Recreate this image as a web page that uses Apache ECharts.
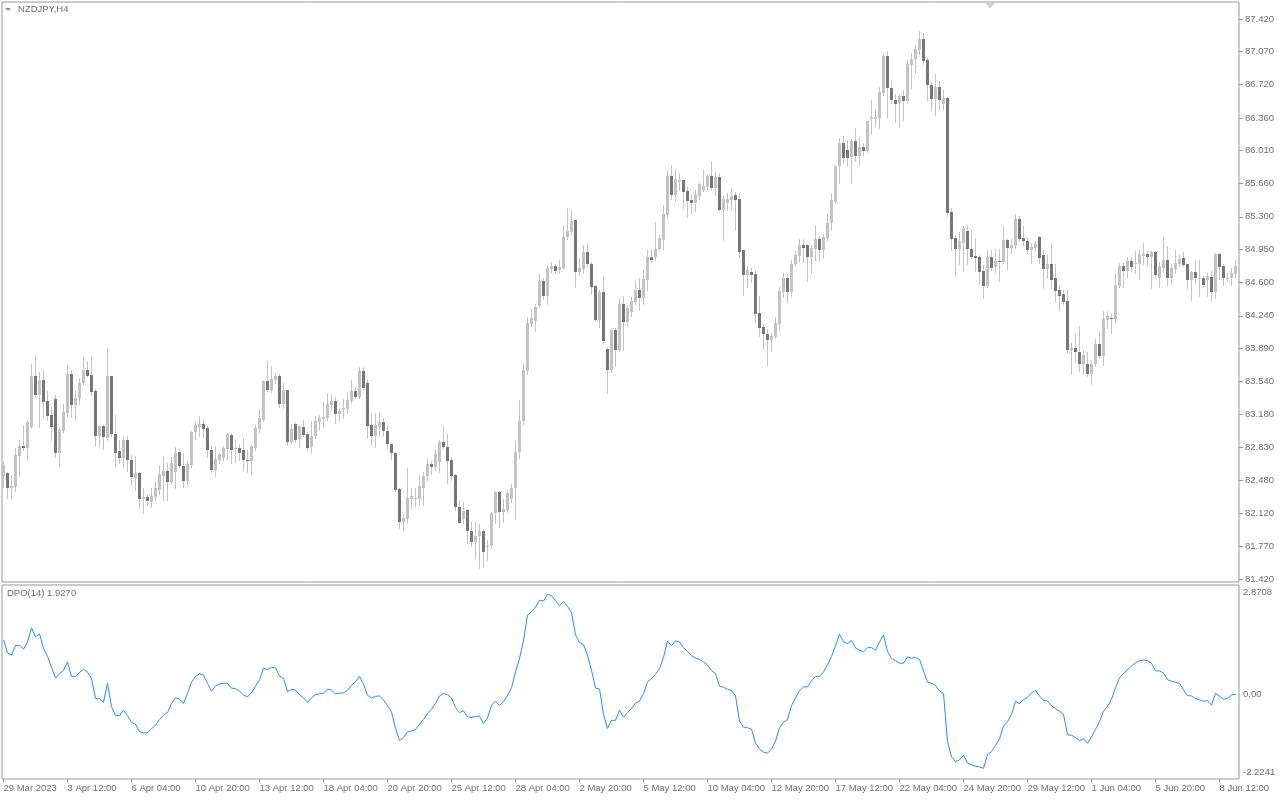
<!DOCTYPE html>
<html>
<head>
<meta charset="utf-8">
<script src="https://cdn.jsdelivr.net/npm/echarts@6/dist/echarts.min.js"></script>
<style>
html,body{margin:0;padding:0;background:#ffffff;}
#chart{width:1280px;height:800px;}
</style>
</head>
<body>
<div id="chart"></div>
<script>
// ---- Data (NZDJPY H4) ----
const opens = [
82.52,82.56,82.40,82.41,82.74,82.85,82.82,83.05,83.60,83.39,
83.55,83.33,83.18,83.35,82.77,83.01,83.20,83.62,83.28,83.36,
83.52,83.66,83.61,83.43,82.95,83.06,82.93,83.59,82.97,82.79,
82.72,82.91,82.70,82.50,82.56,82.28,82.30,82.25,82.30,82.37,
82.52,82.58,82.46,82.57,82.78,82.63,82.47,82.64,82.99,83.05,
83.08,83.04,82.80,82.59,82.70,82.72,82.81,82.96,82.81,82.82,
82.80,82.69,82.68,82.82,83.03,83.12,83.54,83.44,83.55,83.59,
83.29,83.44,82.89,83.08,82.92,83.05,82.97,82.83,82.95,83.10,
83.13,83.15,83.28,83.33,83.19,83.24,83.24,83.33,83.43,83.37,
83.65,83.52,83.07,82.95,83.05,83.10,83.01,82.87,82.77,82.38,
82.03,82.06,82.28,82.28,82.28,82.40,82.52,82.65,82.62,82.67,
82.89,82.83,82.69,82.53,82.19,82.06,82.16,81.93,81.82,81.88,
81.93,81.76,81.77,82.13,82.35,82.14,82.16,82.28,82.40,82.78,
83.11,83.65,84.15,84.18,84.34,84.61,84.45,84.74,84.77,84.73,
84.75,85.08,85.14,85.27,84.71,84.74,84.92,84.80,84.56,84.20,
84.50,83.88,83.66,84.09,83.87,84.37,84.17,84.28,84.39,84.52,
84.43,84.62,84.87,84.87,84.96,85.05,85.32,85.74,85.53,85.67,
85.69,85.58,85.48,85.45,85.52,85.59,85.62,85.74,85.61,85.73,
85.37,85.45,85.48,85.53,85.49,84.94,84.68,84.71,84.69,84.27,
84.12,84.05,83.98,84.01,84.15,84.50,84.64,84.50,84.80,84.88,
85.00,85.00,84.87,84.96,85.06,84.95,85.07,85.23,85.46,85.84,
86.09,86.02,85.94,86.11,85.95,86.05,86.01,86.35,86.35,86.36,
86.63,87.02,86.68,86.55,86.52,86.59,86.54,86.93,86.99,87.09,
87.21,86.98,86.71,86.56,86.69,86.51,86.57,85.35,85.07,84.96,
85.02,85.15,84.96,84.88,84.87,84.72,84.56,84.87,84.76,84.83,
84.82,85.05,84.97,84.99,85.28,85.07,85.04,84.94,84.97,85.08,
84.89,84.74,84.80,84.64,84.52,84.47,84.40,83.87,83.90,83.85,
83.72,83.72,83.62,83.72,83.94,83.81,84.20,84.22,84.21,84.56,
84.77,84.72,84.83,84.79,84.80,84.88,84.90,84.87,84.92,84.65,
84.75,84.84,84.65,84.74,84.80,84.86,84.79,84.62,84.71,84.64,
84.65,84.62,84.66,84.49,84.90,84.77,84.64,84.64,84.69
];
const highs = [
82.67,82.57,82.52,82.82,82.91,83.07,83.12,83.72,83.82,83.64,
83.66,83.43,83.27,83.39,83.04,83.30,83.71,83.66,83.45,83.57,
83.80,83.76,83.81,83.46,83.07,83.07,83.89,83.60,83.18,82.91,
82.95,82.95,82.75,82.74,82.57,82.39,82.33,82.39,82.46,82.64,
82.74,82.66,82.73,82.83,82.81,82.77,82.70,83.01,83.11,83.17,
83.13,83.07,82.84,82.84,82.77,82.84,82.98,82.98,82.91,82.87,
82.93,82.80,82.86,83.07,83.23,83.55,83.76,83.70,83.63,83.62,
83.52,83.45,83.08,83.10,83.07,83.12,82.99,83.11,83.17,83.18,
83.32,83.41,83.40,83.37,83.25,83.35,83.41,83.55,83.48,83.69,
83.69,83.55,83.20,83.20,83.21,83.15,83.07,82.87,82.78,82.39,
82.12,82.61,82.39,82.39,82.53,82.57,82.72,82.68,82.81,82.91,
83.06,82.97,82.73,82.55,82.27,82.25,82.17,82.03,82.03,82.01,
81.96,81.84,82.14,82.36,82.36,82.28,82.37,82.44,82.90,83.34,
83.73,84.23,84.31,84.37,84.69,84.65,84.77,84.82,84.80,84.84,
85.21,85.40,85.37,85.27,84.86,85.00,85.02,84.82,84.57,84.52,
84.67,83.91,84.11,84.11,84.43,84.45,84.36,84.44,84.61,84.64,
84.73,84.95,84.96,85.24,85.11,85.43,85.80,85.86,85.81,85.77,
85.70,85.62,85.55,85.59,85.66,85.80,85.76,85.90,85.78,85.77,
85.52,85.56,85.61,85.57,85.56,84.95,84.77,84.75,84.73,84.45,
84.15,84.10,84.06,84.23,84.55,84.70,84.69,84.84,84.94,85.06,
85.06,85.01,85.00,85.21,85.10,85.12,85.33,85.56,85.86,86.14,
86.17,86.12,86.13,86.25,86.16,86.09,86.33,86.55,86.46,86.69,
87.05,87.08,86.77,86.62,86.62,86.66,86.98,87.06,87.14,87.29,
87.27,87.00,86.75,86.83,86.76,86.66,86.58,85.39,85.11,85.14,
85.20,85.21,85.16,85.07,84.89,84.78,84.95,84.94,84.96,84.96,
85.20,85.06,85.06,85.33,85.31,85.20,85.07,85.02,85.04,85.09,
84.94,84.89,85.02,84.79,84.56,84.52,84.52,83.95,84.06,84.13,
83.87,83.85,83.77,83.99,84.08,84.29,84.29,84.26,84.69,84.81,
84.82,84.87,84.87,84.93,84.95,85.02,84.93,84.93,84.93,84.82,
85.08,84.99,84.80,84.95,84.89,84.92,84.80,84.72,84.84,84.84,
84.67,84.70,84.72,84.91,84.91,84.80,84.70,84.75,84.84
];
const lows = [
82.41,82.29,82.29,82.36,82.52,82.80,82.69,83.04,83.37,83.05,
83.16,83.12,82.91,82.73,82.63,83.00,83.16,83.16,83.12,83.30,
83.50,83.59,83.39,82.84,82.85,82.81,82.91,82.95,82.63,82.66,
82.62,82.58,82.43,82.37,82.18,82.13,82.21,82.19,82.27,82.33,
82.27,82.27,82.45,82.39,82.62,82.41,82.43,82.62,82.92,82.95,
82.94,82.73,82.57,82.52,82.66,82.70,82.71,82.66,82.67,82.70,
82.59,82.57,82.55,82.80,83.00,83.11,83.43,83.42,83.52,83.26,
83.25,82.87,82.88,82.89,82.84,82.95,82.80,82.77,82.93,83.02,
83.05,83.12,83.23,83.09,83.12,83.15,83.20,83.31,83.36,83.36,
83.45,82.93,82.86,82.83,82.95,82.95,82.82,82.71,82.36,81.97,
81.95,82.02,82.18,82.20,82.21,82.21,82.48,82.55,82.59,82.57,
82.82,82.45,82.48,82.16,82.02,82.02,81.81,81.77,81.64,81.54,
81.55,81.62,81.75,82.02,81.98,82.03,82.14,82.25,82.06,82.72,
83.08,83.62,84.13,84.08,84.33,84.42,84.37,84.71,84.70,84.71,
84.74,85.06,85.12,84.55,84.68,84.70,84.77,84.47,84.18,84.12,
83.95,83.41,83.64,83.70,83.86,83.87,84.14,84.24,84.37,84.30,
84.37,84.52,84.82,84.84,84.94,84.96,85.28,85.49,85.47,85.59,
85.40,85.30,85.34,85.36,85.49,85.58,85.58,85.59,85.53,85.36,
85.05,85.37,85.37,85.16,84.87,84.46,84.55,84.60,84.17,84.02,
83.88,83.71,83.87,84.00,84.08,84.44,84.39,84.45,84.77,84.82,
84.82,84.61,84.70,84.84,84.84,84.87,85.05,85.16,85.45,85.66,
85.89,85.85,85.67,85.90,85.86,85.96,85.99,86.19,86.27,86.25,
86.61,86.37,86.52,86.32,86.26,86.34,86.52,86.68,86.84,87.05,
86.94,86.55,86.45,86.39,86.45,86.46,85.31,84.95,84.67,84.79,
84.72,84.79,84.86,84.72,84.59,84.43,84.55,84.73,84.71,84.61,
84.81,84.74,84.91,84.97,85.05,85.00,84.91,84.81,84.93,84.81,
84.54,84.64,84.54,84.40,84.30,84.37,83.84,83.62,83.75,83.65,
83.62,83.59,83.51,83.70,83.79,83.71,84.11,84.06,84.17,84.55,
84.55,84.66,84.72,84.70,84.65,84.79,84.77,84.54,84.65,84.55,
84.71,84.57,84.58,84.70,84.77,84.77,84.54,84.41,84.59,84.45,
84.55,84.45,84.41,84.43,84.63,84.57,84.61,84.57,84.66
];
const closes = [
82.64,82.40,82.42,82.75,82.85,82.82,83.10,83.60,83.39,83.55,
83.32,83.17,83.05,82.77,83.02,83.21,83.62,83.28,83.36,83.52,
83.66,83.60,83.42,82.95,83.06,82.94,83.59,82.97,82.77,82.72,
82.91,82.69,82.51,82.56,82.28,82.30,82.26,82.31,82.39,82.54,
82.58,82.46,82.66,82.77,82.63,82.47,82.65,83.00,83.07,83.08,
83.03,82.80,82.59,82.71,82.76,82.82,82.97,82.80,82.82,82.77,
82.69,82.68,82.84,83.04,83.14,83.54,83.45,83.56,83.59,83.30,
83.44,82.89,83.03,82.91,83.06,82.96,82.82,82.95,83.11,83.14,
83.16,83.30,83.33,83.19,83.22,83.25,83.34,83.43,83.37,83.65,
83.47,83.06,82.95,83.07,83.10,83.01,82.87,82.77,82.37,82.03,
82.07,82.29,82.31,82.29,82.42,82.52,82.65,82.62,82.76,82.89,
82.83,82.68,82.52,82.19,82.02,82.15,81.93,81.82,81.88,81.93,
81.71,81.77,82.13,82.35,82.14,82.17,82.34,82.40,82.78,83.11,
83.66,84.16,84.22,84.33,84.61,84.45,84.75,84.77,84.72,84.76,
85.08,85.15,85.26,84.71,84.75,84.92,84.79,84.55,84.20,84.50,
83.97,83.66,84.09,83.87,84.37,84.17,84.32,84.40,84.52,84.43,
84.63,84.87,84.84,84.96,85.07,85.33,85.74,85.53,85.71,85.69,
85.57,85.47,85.45,85.54,85.65,85.63,85.74,85.61,85.73,85.37,
85.49,85.49,85.52,85.48,84.92,84.68,84.73,84.68,84.26,84.11,
84.05,83.98,84.02,84.16,84.51,84.64,84.50,84.80,84.89,85.00,
84.97,84.87,84.97,85.06,84.95,85.08,85.23,85.48,85.85,86.09,
85.93,85.93,86.11,85.95,86.05,86.01,86.33,86.37,86.37,86.64,
87.02,86.68,86.55,86.51,86.59,86.54,86.94,86.99,87.10,87.21,
86.97,86.71,86.56,86.69,86.55,86.57,85.34,85.06,84.96,85.04,
85.18,84.96,84.87,84.86,84.71,84.56,84.87,84.75,84.83,84.82,
85.05,84.97,85.00,85.28,85.06,85.04,84.94,84.98,85.01,84.86,
84.74,84.80,84.62,84.51,84.45,84.39,83.87,83.89,83.85,83.72,
83.82,83.62,83.72,83.94,83.81,84.21,84.24,84.21,84.57,84.77,
84.72,84.83,84.76,84.81,84.90,84.90,84.87,84.92,84.68,84.77,
84.84,84.65,84.75,84.81,84.85,84.78,84.62,84.71,84.64,84.65,
84.57,84.67,84.49,84.90,84.76,84.64,84.65,84.70,84.77
];
const dpoValues = [
1.54,1.17,1.11,1.38,1.38,1.28,1.48,1.88,1.62,1.71,
1.30,1.07,0.76,0.46,0.58,0.67,0.92,0.50,0.50,0.62,
0.70,0.63,0.44,-0.12,-0.13,-0.23,0.31,-0.35,-0.60,-0.61,
-0.45,-0.61,-0.80,-0.85,-1.06,-1.10,-1.09,-0.98,-0.88,-0.72,
-0.59,-0.52,-0.26,-0.10,-0.14,-0.26,0.02,0.34,0.50,0.58,
0.54,0.31,0.09,0.23,0.29,0.31,0.31,0.17,0.16,0.09,
-0.03,-0.07,0.04,0.23,0.41,0.74,0.69,0.76,0.75,0.51,
0.45,0.07,0.14,0.12,-0.02,-0.10,-0.23,-0.11,-0.01,0.01,
0.03,0.14,0.12,0.01,0.03,0.04,0.11,0.25,0.35,0.51,
0.28,-0.03,-0.11,-0.06,-0.05,-0.16,-0.33,-0.50,-0.96,-1.31,
-1.23,-1.07,-1.04,-1.00,-0.85,-0.72,-0.54,-0.43,-0.26,-0.05,
0.02,-0.01,-0.11,-0.38,-0.52,-0.47,-0.64,-0.66,-0.63,-0.62,
-0.84,-0.67,-0.32,-0.19,-0.32,-0.21,-0.03,0.18,0.63,1.01,
1.52,2.24,2.34,2.47,2.66,2.64,2.83,2.79,2.65,2.51,
2.62,2.49,2.31,1.68,1.47,1.40,1.11,0.68,0.17,0.15,
-0.57,-0.97,-0.74,-0.74,-0.45,-0.65,-0.52,-0.41,-0.25,-0.20,
0.02,0.35,0.44,0.56,0.72,1.04,1.51,1.37,1.51,1.48,
1.32,1.21,1.09,1.02,0.99,0.91,0.83,0.67,0.58,0.23,
0.20,0.14,0.10,-0.05,-0.76,-0.93,-0.95,-0.99,-1.39,-1.55,
-1.64,-1.67,-1.55,-1.33,-0.96,-0.79,-0.72,-0.32,-0.11,0.10,
0.21,0.21,0.38,0.50,0.50,0.63,0.83,1.07,1.37,1.70,
1.48,1.43,1.52,1.31,1.25,1.20,1.32,1.32,1.25,1.48,
1.68,1.21,1.01,0.95,0.88,0.88,1.06,1.02,1.04,0.99,
0.66,0.34,0.31,0.25,0.09,0.02,-1.34,-1.77,-1.91,-1.86,
-1.73,-1.95,-2.00,-2.04,-2.06,-2.10,-1.71,-1.63,-1.45,-1.27,
-0.90,-0.78,-0.57,-0.20,-0.27,-0.15,-0.09,0.04,0.10,-0.05,
-0.18,-0.19,-0.33,-0.41,-0.48,-0.57,-1.15,-1.16,-1.23,-1.32,
-1.26,-1.39,-1.21,-0.99,-0.78,-0.48,-0.35,-0.14,0.18,0.47,
0.58,0.70,0.80,0.89,0.95,0.97,0.95,0.88,0.66,0.66,
0.60,0.41,0.37,0.33,0.31,0.12,-0.04,-0.05,-0.12,-0.16,
-0.20,-0.18,-0.31,0.02,-0.05,-0.14,-0.12,-0.02,0.00
];
const timeLabels = ['29 Mar 2023','3 Apr 12:00','6 Apr 04:00','10 Apr 20:00','13 Apr 12:00',
  '18 Apr 04:00','20 Apr 20:00','25 Apr 12:00','28 Apr 04:00','2 May 20:00','5 May 12:00',
  '10 May 04:00','12 May 20:00','17 May 12:00','22 May 04:00','24 May 20:00','29 May 12:00',
  '1 Jun 04:00','5 Jun 20:00','8 Jun 12:00'];
const barsPerTimeLabel = 16;
const priceTicks = [87.42,87.07,86.72,86.36,86.01,85.66,85.30,84.95,84.60,84.24,83.89,83.54,83.18,82.83,82.48,82.12,81.77,81.42];
const dpoTicks = [2.8708, 0, -2.2241];
const dpoTickLabels = ['2.8708', '0.00', '-2.2241'];
const symbolTitle = 'NZDJPY,H4';
const dpoTitle = 'DPO(14) 1.9270';

// ---- Build ----
const FONT = "'Liberation Sans', Arial, sans-serif";
const TEXT = '#6f6f6f';
const FRAME = '#979797';
const BULL = '#c3c3c3';
const BEAR = '#777777';
const WICK = '#c3c3c3';

const candleData = closes.map((c, i) => [i, opens[i], c, lows[i], highs[i]]);
const dpoData = dpoValues.map((v, i) => [i, v]);
const timeTickBars = timeLabels.map((_, k) => k * barsPerTimeLabel);

const chart = echarts.init(document.getElementById('chart'), null, {renderer: 'canvas'});
const xCommon = {type: 'value', min: -0.375, max: 308.875, splitLine: {show: false},
  axisLine: {show: false, onZero: false}};

chart.setOption({
  animation: false,
  backgroundColor: '#ffffff',
  title: [
    {text: symbolTitle, left: 18, top: 4, padding: 0,
     textStyle: {fontFamily: FONT, fontSize: 9.5, fontWeight: 'normal', color: TEXT}},
    {text: dpoTitle, left: 7, top: 588, padding: 0,
     textStyle: {fontFamily: FONT, fontSize: 9.5, fontWeight: 'normal', color: TEXT}}
  ],
  graphic: [
    {type: 'polygon', shape: {points: [[5, 8], [11, 8], [8, 11]]}, style: {fill: '#8a8a8a'}},
    {type: 'polygon', shape: {points: [[985, 3], [995, 3], [990, 8]]}, style: {fill: '#cfcfcf'}}
  ],
  grid: [
    {left: 2, top: 2, width: 1237, height: 580, show: true, borderColor: FRAME, borderWidth: 1, backgroundColor: 'transparent'},
    {left: 2, top: 585, width: 1237, height: 194, show: true, borderColor: FRAME, borderWidth: 1, backgroundColor: 'transparent'}
  ],
  xAxis: [
    Object.assign({gridIndex: 0, position: 'bottom', axisLabel: {show: false}, axisTick: {show: false}}, xCommon),
    Object.assign({gridIndex: 1, position: 'bottom',
      axisTick: {show: true, length: 3, customValues: timeTickBars, lineStyle: {color: FRAME}},
      axisLabel: {show: true, customValues: timeTickBars, align: 'left', margin: 4,
        fontFamily: FONT, fontSize: 9.5, color: TEXT,
        formatter: v => timeLabels[Math.round(v / barsPerTimeLabel)] || ''}}, xCommon)
  ],
  yAxis: [
    {type: 'value', gridIndex: 0, position: 'right', min: 81.388, max: 87.602,
     splitLine: {show: false}, axisLine: {show: false, onZero: false},
     axisTick: {show: true, length: 4, customValues: priceTicks, lineStyle: {color: FRAME}},
     axisLabel: {show: true, customValues: priceTicks, margin: 6, fontFamily: FONT, fontSize: 9.5, color: TEXT,
       formatter: v => v.toFixed(3)}},
    {type: 'value', gridIndex: 1, position: 'right', min: -2.4023, max: 3.0935,
     splitLine: {show: false}, axisLine: {show: false, onZero: false},
     axisTick: {show: false},
     axisLabel: {show: true, customValues: dpoTicks, margin: 4, fontFamily: FONT, fontSize: 9.5, color: TEXT,
       formatter: v => dpoTickLabels[dpoTicks.indexOf(v)] !== undefined ? dpoTickLabels[dpoTicks.indexOf(v)] : ''}}
  ],
  series: [
    {
      type: 'custom', xAxisIndex: 0, yAxisIndex: 0,
      data: candleData,
      encode: {x: 0, y: [1, 2, 3, 4]},
      clip: true,
      renderItem: function (params, api) {
        const i = api.value(0), o = api.value(1), c = api.value(2), l = api.value(3), h = api.value(4);
        const pO = api.coord([i, o]), pC = api.coord([i, c]);
        const pL = api.coord([i, l]), pH = api.coord([i, h]);
        const x = Math.floor(pO[0]) + 0.5;
        const top = Math.round(Math.min(pO[1], pC[1]));
        const bot = Math.round(Math.max(pO[1], pC[1]));
        const bull = c >= o;
        return {
          type: 'group',
          children: [
            {type: 'line', shape: {x1: x, y1: Math.round(pH[1]), x2: x, y2: Math.round(pL[1]) + 1},
             style: {stroke: WICK, lineWidth: 1}},
            {type: 'rect', shape: {x: x - 1.5, y: top, width: 3, height: Math.max(1, bot - top)},
             style: {fill: bull ? BULL : BEAR}}
          ]
        };
      }
    },
    {
      type: 'line', xAxisIndex: 1, yAxisIndex: 1,
      data: dpoData, showSymbol: false, symbol: 'none',
      lineStyle: {color: '#1e90ff', width: 1},
      emphasis: {disabled: true}
    }
  ]
});
</script>
</body>
</html>
